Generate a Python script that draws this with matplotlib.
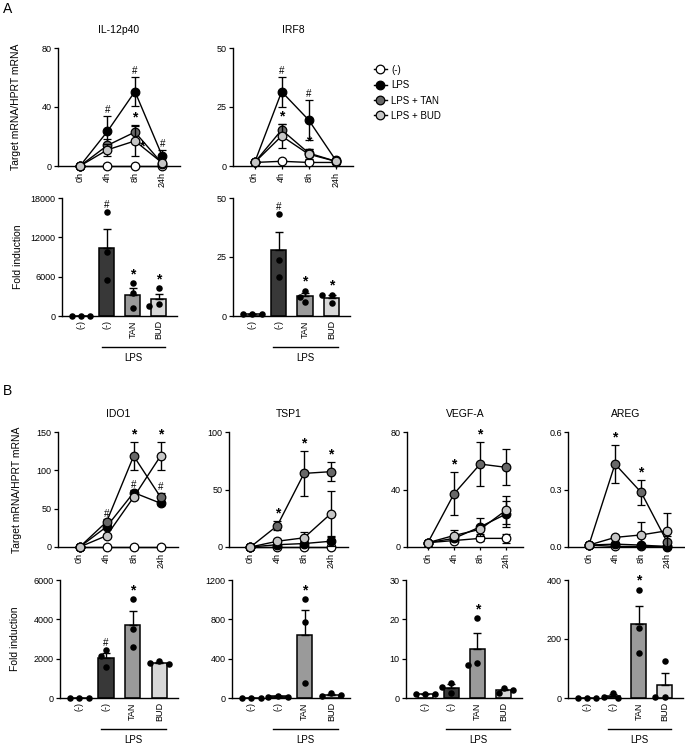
import matplotlib
matplotlib.use('Agg')
import matplotlib.pyplot as plt
import matplotlib.transforms as mtransforms
from matplotlib.lines import Line2D
import numpy as np

plt.rcParams['font.family'] = ['Liberation Sans', 'DejaVu Sans']
plt.rcParams['axes.linewidth'] = 1.0

# ---- data ----
times = ['0h', '4h', '8h', '24h']
groups = ['(-)', 'LPS', 'LPS + TAN', 'LPS + BUD']
bar_labels = ['(-)', '(-)', 'TAN', 'BUD']

# time courses: rows = (-), LPS, LPS+TAN, LPS+BUD
il12_mean = [[0, 0, 0, 0], [0, 23.5, 50.5, 6.5], [0, 14, 23, 1.5], [0, 11, 17, 2]]
il12_sem = [[0, 0, 0, 0], [0, 10.5, 10, 4.5], [0, 4, 5, 1], [0, 4, 10, 1]]
irf8_mean = [[1.5, 2, 1.5, 1.5], [1.5, 31.5, 19.5, 2.5], [1.5, 15.3, 5.5, 2], [1.5, 12.7, 5, 2]]
irf8_sem = [[0, 0, 0, 0], [0, 6.3, 8.5, 0.5], [0, 2.5, 1.5, 0.5], [0, 5, 2, 0.5]]
ido1_mean = [[0, 0, 0, 0], [0, 26.5, 71, 57], [0, 33, 118.7, 64.8], [0, 14.8, 65, 119]]
ido1_sem = [[0, 0, 0, 0], [0, 3, 3, 2], [0, 3, 18.5, 6], [0, 2, 3, 18]]
tsp1_mean = [[0, 0, 0, 0], [0, 2, 3, 5], [0, 18.5, 64, 65.5], [0, 5, 8, 29]]
tsp1_sem = [[0, 0, 0, 0], [0, 1, 2, 4], [0, 4, 19.5, 8.5], [0, 2, 5, 19.5]]
vegfa_mean = [[3, 4.5, 6, 6], [3, 6, 14, 23], [3, 37, 57.7, 55.4], [3, 8, 12.3, 25.7]]
vegfa_sem = [[0, 1, 2, 3], [0, 2, 6, 9], [0, 15, 15, 12.5], [0, 4, 3, 10]]
areg_mean = [[0.01, 0.003, 0.003, 0.003], [0.01, 0.015, 0.01, 0.002],
             [0.01, 0.433, 0.285, 0.025], [0.01, 0.05, 0.063, 0.085]]
areg_sem = [[0, 0, 0, 0], [0, 0.005, 0.005, 0.002], [0, 0.1, 0.065, 0.03], [0, 0.01, 0.065, 0.09]]

# fold induction, three replicates per group: (-), LPS, LPS+TAN, LPS+BUD
il12_fold = [[1, 1, 1], [15800, 9700, 5500], [4990, 3460, 1170], [4220, 1830, 1525]]
irf8_fold = [[1, 1, 1], [43.2, 23.7, 16.4], [10.6, 8.2, 6.1], [8.9, 8.9, 5.6]]
ido1_fold = [[1, 1, 1], [2440, 2135, 1590], [5030, 3525, 2580], [1880, 1760, 1720]]
tsp1_fold = [[1, 1, 1], [25, 10, 15], [1004, 776, 150], [48, 25, 30]]
vegfa_fold = [[1, 1, 1], [3.9, 2.9, 1.2], [20.3, 8.8, 8.4], [2.5, 1.3, 2.0]]
areg_fold = [[1, 1, 1], [18, 5, 1], [366, 236, 151], [125, 3, 3]]

# significance marks: (group, time index, symbol, placement)
il12_marks = [(1, 1, '#', 'above'), (1, 2, '#', 'above'), (2, 2, '*', 'above'),
              (1, 3, '#', 'above'), (3, 2, '*', 'right')]
irf8_marks = [(1, 1, '#', 'above'), (1, 2, '#', 'above'), (2, 1, '*', 'above'), (2, 2, '*', 'above')]
ido1_marks = [(2, 1, '#', 'above'), (1, 2, '#', 'above'), (2, 3, '#', 'above'),
              (2, 2, '*', 'above'), (3, 3, '*', 'above')]
tsp1_marks = [(2, 1, '*', 'above'), (2, 2, '*', 'above'), (2, 3, '*', 'above')]
vegfa_marks = [(2, 1, '*', 'above'), (2, 2, '*', 'above')]
areg_marks = [(2, 1, '*', 'above'), (2, 2, '*', 'above')]

il12_fold_marks = [(1, '#'), (2, '*'), (3, '*')]
irf8_fold_marks = [(1, '#'), (2, '*'), (3, '*')]
ido1_fold_marks = [(1, '#'), (2, '*')]
tsp1_fold_marks = [(2, '*')]
vegfa_fold_marks = [(2, '*')]
areg_fold_marks = [(2, '*')]

line_colors = ['white', 'black', '#686868', '#c6c6c6']
bar_colors = ['white', '#383838', '#9a9a9a', '#d8d8d8']

W, H = 685, 746
fig = plt.figure(figsize=(W / 100, H / 100), dpi=100)


def px_axes(left, top, right, bottom):
    return fig.add_axes([left / W, 1 - bottom / H, (right - left) / W, (bottom - top) / H])


def style(ax):
    for s in ['top', 'right']:
        ax.spines[s].set_visible(False)
    ax.tick_params(axis='both', labelsize=6.5, length=3, width=0.9, pad=1.5)


def mark_text(ax, sym, xy, offset, ha='center', va='bottom'):
    size = 10 if sym == '*' else 7
    weight = 'bold' if sym == '*' else 'normal'
    ax.annotate(sym, xy=xy, xytext=offset, textcoords='offset points',
                ha=ha, va=va, fontsize=size, fontweight=weight, annotation_clip=False)


def draw_time(ax, title, mean, sem, ymax, yticks, ticklabels, marks, ylabel=None):
    x = np.arange(len(times))
    for i in range(len(groups)):
        ax.errorbar(x, mean[i], yerr=sem[i], color='black', lw=1.0, capsize=2.8, capthick=1.0,
                    marker='o', ms=6.2, mfc=line_colors[i], mec='black', mew=0.9,
                    zorder=3 + i, clip_on=False)
    ax.set_xlim(-0.8, 3.64)
    ax.set_ylim(0, ymax)
    ax.set_yticks(yticks, ticklabels)
    ax.set_xticks(x, times, rotation=90)
    style(ax)
    ax.tick_params(axis='x', length=2.5)
    ax.set_title(title, fontsize=7.5, pad=11)
    for g, t, sym, where in marks:
        top = mean[g][t] + sem[g][t]
        if where == 'above':
            mark_text(ax, sym, (t, top), (0, 0.5))
        else:
            mark_text(ax, sym, (t, mean[g][t]), (3, -4), ha='left', va='center')
    if ylabel:
        ax.set_ylabel(ylabel, fontsize=7.5)
        ax.yaxis.set_label_coords(-0.3, 0.5)


def spread(ax, vals, xc):
    placed, xs = [], []
    for v in vals:
        for off in [0, -0.19, 0.19, -0.36, 0.36]:
            p = ax.transData.transform((xc + off, v))
            if all(np.hypot(*(p - q)) >= 6.5 for q in placed):
                break
        placed.append(p)
        xs.append(xc + off)
    return xs


def draw_fold(ax, dots, ymax, yticks, ticklabels, marks, ylabel=None):
    x = np.arange(len(bar_labels))
    means = np.array([np.mean(d) for d in dots])
    sems = np.array([np.std(d, ddof=1) / np.sqrt(len(d)) for d in dots])
    ax.set_xlim(-0.73, 3.7)
    ax.set_ylim(0, ymax)
    ax.bar(x, means, width=0.58, color=bar_colors, edgecolor='black', lw=1.1, zorder=1)
    ax.errorbar(x, means, yerr=[np.zeros(len(x)), sems], fmt='none', ecolor='black',
                elinewidth=1.0, capsize=3, capthick=1.0, zorder=2)
    for i, d in enumerate(dots):
        xs = spread(ax, d, x[i])
        ax.scatter(xs, d, s=22, color='black', zorder=4, clip_on=False, linewidths=0)
    ax.set_yticks(yticks, ticklabels)
    ax.set_xticks(x, bar_labels, rotation=90)
    style(ax)
    ax.tick_params(axis='x', length=0, pad=3)
    for g, sym in marks:
        top = max(max(dots[g]), means[g] + sems[g])
        mark_text(ax, sym, (g, top), (0, 1.5))
    trans = mtransforms.blended_transform_factory(ax.transData, ax.transAxes)
    ax.plot([0.8, 3.24], [-0.265, -0.265], transform=trans, color='black', lw=1.0, clip_on=False)
    ax.text(2.02, -0.36, 'LPS', transform=trans, ha='center', va='center', fontsize=7)
    if ylabel:
        ax.set_ylabel(ylabel, fontsize=7.5)
        ax.yaxis.set_label_coords(-0.34, 0.5)


ylab_line = 'Target mRNA/HPRT mRNA'
ylab_bar = 'Fold induction'

# ---- panel A ----
ax = px_axes(58, 48, 180, 166)
draw_time(ax, 'IL-12p40', il12_mean, il12_sem, 80, [0, 40, 80], ['0', '40', '80'], il12_marks, ylab_line)
ax = px_axes(233, 48, 353, 166)
draw_time(ax, 'IRF8', irf8_mean, irf8_sem, 50, [0, 25, 50], ['0', '25', '50'], irf8_marks)

ax = px_axes(62, 198, 177, 316)
draw_fold(ax, il12_fold, 18000, [0, 6000, 12000, 18000], ['0', '6000', '12000', '18000'],
          il12_fold_marks, ylab_bar)
ax = px_axes(233, 198, 350, 316)
draw_fold(ax, irf8_fold, 50, [0, 25, 50], ['0', '25', '50'], irf8_fold_marks)

# legend
handles = [Line2D([0], [0], color='black', lw=1.0, marker='o', ms=6.2, mfc=c, mec='black', mew=0.9)
           for c in line_colors]
fig.legend(handles, groups, loc='upper left', bbox_to_anchor=(369 / W, 1 - 60 / H), frameon=False,
           fontsize=7, handlelength=1.3, handletextpad=0.5, labelspacing=0.55, borderpad=0)

# ---- panel B ----
ax = px_axes(58, 432, 178, 547)
draw_time(ax, 'IDO1', ido1_mean, ido1_sem, 150, [0, 50, 100, 150], ['0', '50', '100', '150'],
          ido1_marks, ylab_line)
ax = px_axes(229, 432, 348, 547)
draw_time(ax, 'TSP1', tsp1_mean, tsp1_sem, 100, [0, 50, 100], ['0', '50', '100'], tsp1_marks)
ax = px_axes(407, 432, 523, 547)
draw_time(ax, 'VEGF-A', vegfa_mean, vegfa_sem, 80, [0, 40, 80], ['0', '40', '80'], vegfa_marks)
ax = px_axes(568, 432, 684, 547)
draw_time(ax, 'AREG', areg_mean, areg_sem, 0.6, [0, 0.3, 0.6], ['0.0', '0.3', '0.6'], areg_marks)

ax = px_axes(60, 580, 178, 698)
draw_fold(ax, ido1_fold, 6000, [0, 2000, 4000, 6000], ['0', '2000', '4000', '6000'],
          ido1_fold_marks, ylab_bar)
ax = px_axes(232, 580, 350, 698)
draw_fold(ax, tsp1_fold, 1200, [0, 400, 800, 1200], ['0', '400', '800', '1200'], tsp1_fold_marks)
ax = px_axes(406, 580, 522, 698)
draw_fold(ax, vegfa_fold, 30, [0, 10, 20, 30], ['0', '10', '20', '30'], vegfa_fold_marks)
ax = px_axes(568, 580, 683, 698)
draw_fold(ax, areg_fold, 400, [0, 200, 400], ['0', '200', '400'], areg_fold_marks)

fig.text(3 / W, 1 - 2 / H, 'A', fontsize=10, va='top', ha='left')
fig.text(3 / W, 1 - 384 / H, 'B', fontsize=10, va='top', ha='left')

fig.savefig('out.png', dpi=100)
